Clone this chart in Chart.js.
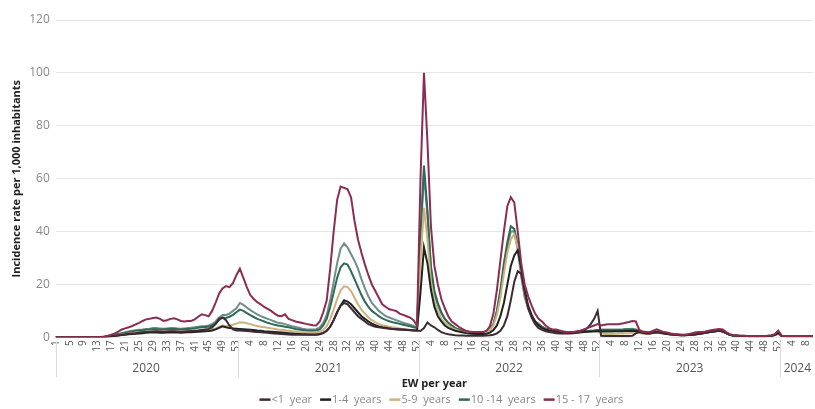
<!DOCTYPE html>
<html>
<head>
<meta charset="utf-8">
<script src="https://cdn.jsdelivr.net/npm/chart.js@4"></script>
<style>
  html, body { margin: 0; padding: 0; background: #fff; }
  #wrap { width: 815px; height: 409px; position: relative; }
</style>
</head>
<body>
<div id="wrap"><canvas id="incidenceChart"></canvas></div>
<script>
// weeks per year shown on the axis (2024 only up to week 10)
const years = ["2020", "2021", "2022", "2023", "2024"];
const weeksPerYear = [53, 52, 52, 52, 10];

// incidence per 1,000 inhabitants, one value per epidemiological week
// rows: 2020 (53) | 2021 (52) | 2022 (52) | 2023 (52) | 2024 (10)
const under1 = [
  0,0,0,0,0,0,0,0,0,0,0,0,0, 0,0.1,0.2,0.4,0.6,0.8,1,1.2,1.4,1.5,1.6,1.8,1.9,
  2,2.1,2.2,2.3,2.2,2.1,2.2,2.3,2.3,2.2,2.1,2.2,2.3, 2.4,2.5,2.6,2.8,3,3.2,3.8,5,7,7.5,6.5,4.5,3,2.6,
  2.6,2.5,2.4,2.3,2.1,2,1.9,1.8,1.7,1.6, 1.5,1.4,1.3,1.2,1.1,1,1,1,1,1, 1,1,1,1.2,1.6,2.5,4,6.5,9.5,12,
  13,12.5,11,9.5,8,7,6,5,4.5,4, 3.8,3.6,3.4,3.3,3.2,3.1,3,3,2.9,2.8, 2.7,2.6,
  2.4,3.5,5.6,4.5,3.8,2.8,2,1.5,1.2,1,0.8,0.7,0.7, 0.6,0.6,0.6,0.6,0.6,0.6,0.7,0.8,1,1.5,2.5,4.5,8,
  14,21,25,24,17,11,7.5,5,3.5,2.8,2.3,2,1.8, 1.6,1.5,1.5,1.5,1.5,1.6,1.7,2,2.5,3.5,5,7,10,
  0.6,0.5,0.5,0.5,0.5,0.5,0.5,0.5,0.5,0.6,1.5,2,1.8, 1.6,1.6,1.8,2,1.8,1.6,1.4,1.2,1,0.9,0.8,0.8,0.9,
  1,1.1,1.3,1.5,1.7,1.9,2.1,2.3,2.5,2.2,1.6,1,0.7, 0.6,0.5,0.5,0.5,0.4,0.4,0.4,0.4,0.4,0.5,0.6,1,2.4,
  0.5,0.5,0.4,0.4,0.4,0.4,0.4,0.4,0.4,0.4
];
const age1to4 = [
  0,0,0,0,0,0,0,0,0,0,0,0,0, 0,0.1,0.2,0.4,0.5,0.7,0.9,1,1.2,1.3,1.4,1.5,1.6,
  1.7,1.8,1.8,1.8,1.7,1.7,1.8,1.8,1.9,1.8,1.7,1.8,1.9, 1.9,2,2.1,2.2,2.3,2.4,2.6,3,3.6,4.2,3.8,3.5,3.4,3.3,
  3.2,3.1,3,2.9,2.8,2.6,2.5,2.3,2.2,2.1, 2,1.9,1.8,1.7,1.6,1.5,1.4,1.3,1.2,1.2, 1.1,1.1,1.1,1.3,1.7,2.5,4,6.5,9.5,12,
  14,13.5,12.5,11,9.5,8,7,6,5.2,4.6, 4.1,3.8,3.6,3.4,3.2,3.1,3,2.9,2.8,2.7, 2.6,2.6,
  17,34,28,18,11.5,8,6,4.5,3.6,3,2.5,2.2,1.9, 1.6,1.5,1.4,1.3,1.3,1.3,1.4,1.8,2.8,4.5,8,13,20,
  27,31,33,26,18,12,8.5,6,4.5,3.6,3,2.7,2.5, 2.2,2,1.9,1.8,1.8,1.8,1.8,1.9,2,2.1,2.2,2.3,2.4,
  2.2,2.2,2.2,2.2,2.3,2.3,2.3,2.4,2.4,2.5,2.4,2.1,1.7, 1.5,1.5,1.7,1.9,1.7,1.5,1.3,1.1,1,0.9,0.8,0.8,0.9,
  1,1.1,1.3,1.5,1.7,1.9,2.1,2.3,2.5,2.2,1.6,1,0.7, 0.6,0.5,0.5,0.5,0.4,0.4,0.4,0.4,0.4,0.5,0.6,0.9,1.6,
  0.5,0.5,0.4,0.4,0.4,0.4,0.4,0.4,0.4,0.4
];
const age5to9 = [
  0,0,0,0,0,0,0,0,0,0,0,0,0, 0.1,0.2,0.3,0.5,0.7,0.9,1.1,1.3,1.5,1.6,1.8,1.9,2,
  2.1,2.2,2.3,2.3,2.2,2.2,2.3,2.3,2.4,2.3,2.2,2.3,2.4, 2.4,2.5,2.6,2.7,2.8,2.9,3.1,3.4,4,4.5,4.2,4.4,4.8,5.2,
  5.7,5.6,5.3,5,4.6,4.3,4,3.8,3.6,3.4, 3.2,3,2.9,2.7,2.5,2.3,2.2,2,1.9,1.8, 1.8,1.8,1.9,2.1,2.8,4.2,7,10.5,14.5,17.8,
  19.3,19,17.5,15,12.5,10.5,9,7.5,6.5,5.7, 5.1,4.6,4.3,4,3.8,3.6,3.4,3.2,3,2.8, 2.6,2.5,
  29,49,37,21,13.5,10,7,5.5,4.5,3.5,3,2.5,2, 1.8,1.6,1.5,1.4,1.4,1.4,1.8,2.8,4.5,8.5,15,24,32,
  37,39,34,25,16,11,8,6,4.5,3.6,3,2.7,2.5, 2.2,2,1.9,1.8,1.8,1.8,1.8,1.8,1.9,2,2.1,2.2,2.3,
  1.5,1.3,1.3,1.3,1.4,1.5,1.5,1.6,1.6,1.7,1.8,1.6,1.4, 1.3,1.4,1.6,1.8,1.6,1.4,1.3,1.1,1,0.9,0.8,0.8,0.9,
  1,1.2,1.4,1.6,1.8,2,2.3,2.6,2.9,2.6,1.8,1.1,0.7, 0.6,0.5,0.5,0.5,0.5,0.4,0.4,0.4,0.4,0.5,0.6,0.8,1.3,
  0.5,0.5,0.4,0.4,0.4,0.4,0.4,0.4,0.4,0.4
];
const age10to14 = [
  0,0,0,0,0,0,0,0,0,0,0,0,0, 0.1,0.2,0.4,0.6,0.9,1.2,1.5,1.7,2,2.2,2.4,2.6,2.7,
  2.9,3,3.1,3.1,3,3,3.1,3.2,3.2,3.1,3,3.1,3.2, 3.3,3.4,3.6,3.8,3.9,4,4.5,5.2,6.5,7.5,7.3,7.8,8.5,9.5,
  10.5,10,9.2,8.4,7.7,7,6.5,6,5.5,5.1, 4.8,4.5,4.3,4,3.8,3.5,3.2,3,2.8,2.6, 2.5,2.5,2.6,3,4.5,7,11.5,17,22.5,26.5,
  28,27.5,25,22,19,16,13.5,11.5,10,9, 8,7.2,6.6,6.1,5.7,5.4,5.1,4.8,4.5,4.2, 3.8,3.5,
  39,65,48,27,17.5,13,9.5,7,5.5,4.5,3.5,3,2.5, 2,1.7,1.5,1.5,1.5,1.5,2,3,5,10,18,28,36,
  42,41,35,25,16,11,8,6,5,4,3.3,3,2.7, 2.5,2.3,2.1,2,2,2,2,2,2.1,2.3,2.5,2.6,2.8,
  2.8,2.8,2.8,2.8,2.8,2.8,2.8,3,3,3,2.8,2.4,1.9, 1.7,1.7,1.8,2,1.8,1.6,1.5,1.3,1.1,1,0.9,0.9,1,
  1.2,1.4,1.5,1.7,1.8,2,2.2,2.4,2.5,2.3,1.6,1,0.7, 0.6,0.5,0.5,0.5,0.5,0.5,0.5,0.5,0.5,0.5,0.6,0.9,1.5,
  0.5,0.5,0.5,0.5,0.5,0.5,0.5,0.5,0.5,0.5
];
const age15to17 = [
  0,0,0,0,0,0,0,0,0,0,0,0,0, 0.1,0.3,0.6,1,1.5,2.2,3,3.4,3.8,4.3,4.9,5.5,6.2,
  6.8,7,7.3,7.5,7,6.2,6.5,7,7.2,6.8,6.2,6,6.2, 6.2,6.8,7.8,8.7,8.4,8,10,13,16.5,18.5,19.4,19,20.5,23.5,
  26,22.5,19,16,14.5,13.3,12.5,11.5,10.8,10, 9,8.2,8,8.7,7,6.5,6,5.7,5.4,5.1, 4.9,4.6,4.5,6,9.5,14,26,40,52,57,
  56.5,56,53,44,37,32,27.5,23.5,20,17.5, 15,12.5,11.5,10.6,10.3,10,9,8.5,8,7.5, 6.5,4.5,
  60,100,74,42,27,20,14.5,11,8,6,5,4,3.2, 2.5,2.2,2,2,2,2,2.5,4.3,9,18,29,40,49.6,
  53,51,40,28,20,15.5,12,9,7,6,4.5,3.5,3, 3,2.6,2.2,2,2,2,2.3,2.5,3,3.5,4,4.5,5,
  4.5,4.8,5,5,5,5,5.2,5.5,5.8,6.2,6,2.8,2.2, 2,2,2.5,3,2.5,2,1.8,1.5,1.3,1.2,1,1,1.2,
  1.5,1.8,2,2,2.2,2.5,2.8,3,3.2,3,2,1.2,0.8, 0.7,0.6,0.6,0.5,0.5,0.5,0.5,0.5,0.5,0.6,0.8,1.2,2.5,
  0.6,0.5,0.5,0.5,0.5,0.5,0.5,0.5,0.5,0.5
];
// extra grey-green line drawn in the figure but not listed in its legend
const unlisted = [
  0,0,0,0,0,0,0,0,0,0,0,0,0, 0.1,0.2,0.4,0.7,1,1.3,1.6,1.9,2.2,2.5,2.7,2.9,3,
  3.2,3.3,3.5,3.5,3.4,3.3,3.4,3.5,3.5,3.4,3.3,3.4,3.5, 3.6,3.8,4,4.2,4.3,4.5,5,6,7.5,8.5,8.5,9,10,11,
  13,12.3,11.3,10.3,9.5,8.7,8,7.5,7,6.5, 6,5.5,5.3,5,4.6,4.2,3.9,3.6,3.3,3.1, 3,3,3.1,3.8,5.5,8.5,14,21,28,33.5,
  35.5,34,31.5,29,26,22,18.5,15.5,13,11.5, 10,9,8,7.5,7,6.5,6,5.5,5.2,4.8, 4.3,4,
  37,62,46,26,16.5,12,9,7,5.5,4.5,3.5,3,2.5, 2,1.7,1.5,1.5,1.5,1.5,2,3,5,10,17,26,34,
  40,40,33,23,15,11,8,6,5,4,3.3,3,2.8, 2.5,2.3,2.2,2,2,2,2,2,2.2,2.4,2.5,2.6,2.8,
  3,3,3,3,3,3,3,3.2,3.2,3.3,3,2.6,2, 1.8,1.8,2,2.3,2,1.8,1.6,1.4,1.2,1.1,1,1,1.1,
  1.3,1.5,1.7,1.8,2,2.2,2.5,2.7,2.9,2.6,1.8,1.1,0.8, 0.7,0.6,0.6,0.5,0.5,0.5,0.5,0.5,0.5,0.6,0.7,1,1.8,
  0.6,0.5,0.5,0.5,0.5,0.5,0.5,0.5,0.5,0.5
];

const yTicks = [0, 20, 40, 60, 80, 100, 120];

// build week categories, ticks every 4 weeks
const weekLabels = [];
const showTick = [];
weeksPerYear.forEach((n, y) => {
  for (let w = 1; w <= n; w++) {
    weekLabels.push(String(w));
    showTick.push(y === 0 ? (w % 4 === 1) : (w % 4 === 0));
  }
});

const font = "'Open Sans', 'Liberation Sans', sans-serif";

// year names and separators under the week ticks
const yearBand = {
  id: "yearBand",
  afterDraw(chart) {
    const x = chart.scales.x;
    const area = chart.chartArea;
    const c = chart.ctx;
    c.save();
    c.strokeStyle = "#dcdcdc";
    c.lineWidth = 1;
    c.fillStyle = "#555";
    c.font = "12px " + font;
    c.textAlign = "center";
    c.textBaseline = "middle";
    let start = 0;
    weeksPerYear.forEach((n, y) => {
      const end = start + n - 1;
      const x0 = x.getPixelForValue(start);
      const x1 = x.getPixelForValue(end);
      c.fillText(years[y], (x0 + x1) / 2, area.bottom + 31);
      const sep = y === 0 ? x0 : (x0 + x.getPixelForValue(start - 1)) / 2;
      c.beginPath();
      c.moveTo(Math.round(sep) + 0.5, area.bottom + 4);
      c.lineTo(Math.round(sep) + 0.5, area.bottom + 40);
      c.stroke();
      start = end + 1;
    });
    c.restore();
  }
};

// legend row at the very bottom (dataset index order of the original legend)
const legendOrder = [1, 2, 3, 4, 0];
const legendRow = {
  id: "legendRow",
  afterDraw(chart) {
    const c = chart.ctx;
    const area = chart.chartArea;
    c.save();
    c.font = "11px " + font;
    c.textBaseline = "middle";
    const items = legendOrder.map(i => chart.data.datasets[i]);
    const gap = 8, sw = 11;
    const widths = items.map(d => sw + 1 + c.measureText(d.label).width);
    const total = widths.reduce((a, b) => a + b, 0) + gap * (items.length - 1);
    let xPos = (area.left + area.right) / 2 + 7 - total / 2;
    const yPos = area.bottom + 62;
    items.forEach((d, k) => {
      c.fillStyle = d.borderColor;
      c.fillRect(xPos, yPos - 1, sw, 2.5);
      c.fillStyle = "#888";
      c.fillText(d.label, xPos + sw + 1, yPos);
      xPos += widths[k] + gap;
    });
    c.restore();
  }
};

function line(label, data, color) {
  return {
    label: label,
    data: data,
    borderColor: color,
    backgroundColor: color,
    borderWidth: 2,
    pointRadius: 0,
    tension: 0,
    fill: false
  };
}

new Chart(document.getElementById("incidenceChart"), {
  type: "line",
  data: {
    labels: weekLabels,
    datasets: [
      line("15 - 17  years", age15to17, "#8b2c50"),
      line("<1  year", under1, "#3f2a33"),
      line("1-4  years", age1to4, "#1e2420"),
      line("5-9  years", age5to9, "#ccb27c"),
      line("10 -14  years", age10to14, "#2e6a55"),
      line("", unlisted, "#6f8e87")
    ]
  },
  options: {
    responsive: true,
    maintainAspectRatio: false,
    animation: false,
    layout: { padding: { left: 10, right: 2, top: 20, bottom: 0 } },
    plugins: {
      tooltip: { enabled: false },
      legend: { display: false }
    },
    scales: {
      x: {
        offset: false,
        grid: { display: false, drawTicks: false },
        border: { display: false },
        afterFit: scale => { scale.paddingLeft = 0; scale.paddingRight = 0; },
        ticks: {
          autoSkip: false,
          minRotation: 90,
          maxRotation: 90,
          padding: 3,
          color: "#555",
          font: { family: font, size: 10 },
          callback: function (value, index) {
            return showTick[index] ? weekLabels[index] : "";
          }
        },
        title: {
          display: true,
          text: "EW per year",
          color: "#222",
          font: { family: font, size: 11, weight: "bold" },
          padding: { top: 22, bottom: 19 }
        }
      },
      y: {
        min: 0,
        max: 120,
        afterBuildTicks: axis => { axis.ticks = yTicks.map(v => ({ value: v })); },
        grid: { color: "#e6e6e6", drawTicks: false },
        border: { display: false },
        ticks: {
          padding: 6,
          color: "#888",
          font: { family: font, size: 12 }
        },
        title: {
          display: true,
          text: "Incidence rate per 1,000 inhabitants",
          color: "#222",
          font: { family: font, size: 11, weight: "bold" },
          padding: { top: 0, bottom: 0 }
        }
      }
    }
  },
  plugins: [yearBand, legendRow]
});
</script>
</body>
</html>
